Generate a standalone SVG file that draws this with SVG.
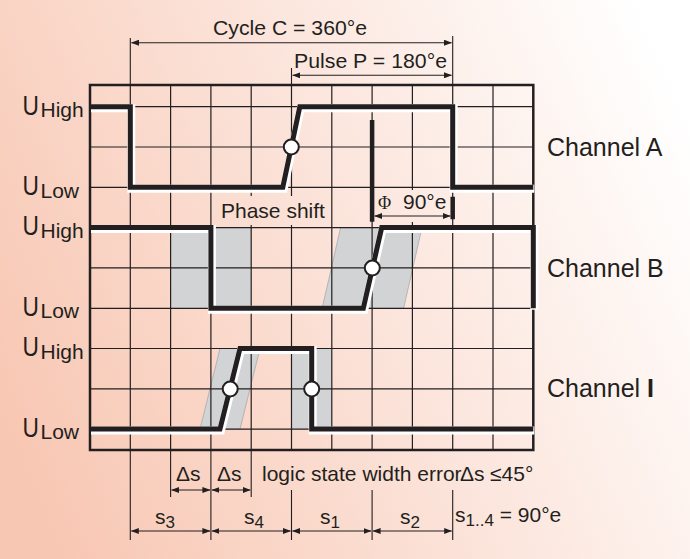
<svg xmlns="http://www.w3.org/2000/svg" width="690" height="559" viewBox="0 0 690 559">
<defs>
<linearGradient id="bg" gradientUnits="userSpaceOnUse" x1="0" y1="420" x2="690" y2="120">
<stop offset="0" stop-color="#f8c7b3"/>
<stop offset="0.45" stop-color="#fbe0d5"/>
<stop offset="1" stop-color="#ffffff"/>
</linearGradient>
<marker id="ah" markerUnits="userSpaceOnUse" markerWidth="8" markerHeight="6" refX="7.5" refY="3" orient="auto-start-reverse">
<path d="M0,0 L8,3 L0,6 Z" fill="#231f20"/>
</marker>
<style>
text{font-family:"Liberation Sans",Arial,Helvetica,sans-serif;fill:#231f20}
.t21{font-size:21px}
.ch{font-size:25px}
.u{font-size:27px}
.sub{font-size:21px}
.grid{stroke:#231f20;stroke-width:1.2;fill:none}
.border{stroke:#231f20;stroke-width:2.5;fill:none}
.halo{stroke:#ffffff;stroke-width:8;fill:none;stroke-linejoin:miter}
.sig{stroke:#231f20;stroke-width:5;fill:none;stroke-linejoin:miter}
.shade{fill:#d1d3d4}
.shade2{fill:#d1d3d4;stroke:#a8aaad;stroke-width:0.8}
.dim{stroke:#231f20;stroke-width:1.1;fill:none}
.arr{stroke:#231f20;stroke-width:1.1;fill:none;marker-start:url(#ah);marker-end:url(#ah)}
.bar{stroke:#231f20;stroke-width:4.5;fill:none}
.dot{fill:#ffffff;stroke:#231f20;stroke-width:2}
.knock{fill:url(#bg)}
</style>
</defs>
<rect x="0" y="0" width="690" height="559" fill="url(#bg)"/>

<g id="shading">
<rect class="shade" x="170.6" y="227.6" width="80.6" height="80.7"/>
<path class="shade2" d="M322.2,308.3 L340.6,227.6 H422 L403.6,308.3 Z"/>
<path class="shade2" d="M200,429.1 L220,348.5 H260 L240,429.1 Z"/>
<rect class="shade" x="291.5" y="348.5" width="40.3" height="80.6"/>
</g>

<g id="grid">
<path class="grid" d="M130.3,85V450M170.6,85V450M210.9,85V450M251.2,85V450M291.5,85V450M331.8,85V450M372.1,85V450M412.4,85V450M452.7,85V450M493,85V450"/>
<path class="grid" d="M90,106.7H533.3M90,147H533.3M90,187.3H533.3M90,227.6H533.3M90,267.9H533.3M90,308.3H533.3M90,348.5H533.3M90,388.8H533.3M90,429.1H533.3"/>
<rect class="border" x="90" y="85" width="443.3" height="365"/>
<rect class="knock" x="217" y="196" width="113" height="29"/>
<rect class="knock" x="375" y="190" width="76" height="32"/>
</g>

<g id="labels-left">
<text class="u" transform="translate(22.5,114.5) scale(0.84,1)">U</text>
<text class="sub" x="40.5" y="117">High</text>
<text class="u" transform="translate(22.5,195) scale(0.84,1)">U</text>
<text class="sub" x="40.5" y="197.5">Low</text>
<text class="u" transform="translate(22.5,235.3) scale(0.84,1)">U</text>
<text class="sub" x="40.5" y="237.8">High</text>
<text class="u" transform="translate(22.5,315.8) scale(0.84,1)">U</text>
<text class="sub" x="40.5" y="318.3">Low</text>
<text class="u" transform="translate(22.5,356) scale(0.84,1)">U</text>
<text class="sub" x="40.5" y="358.5">High</text>
<text class="u" transform="translate(22.5,436.6) scale(0.84,1)">U</text>
<text class="sub" x="40.5" y="439.1">Low</text>
</g>

<g id="channel-a">
<path class="halo" transform="translate(1,1.5)" d="M90,106.7 H130.3 V187.3 H282.8 L299.8,106.7 H452.7 V187.3 H533.3"/>
<path class="sig" d="M90,106.7 H130.3 V187.3 H282.8 L299.8,106.7 H452.7 V187.3 H533.3"/>
<circle class="dot" cx="291.3" cy="147" r="7.5"/>
<text class="ch" x="547" y="156">Channel A</text>
</g>

<g id="channel-b">
<path class="halo" transform="translate(1,1.5)" d="M90,227.6 H210.9 V308.3 H363.3 L381.7,227.6 H533.3 V308.3"/>
<path class="sig" d="M90,227.6 H210.9 V308.3 H363.3 L381.7,227.6 H533.3 V308.3"/>
<circle class="dot" cx="372.3" cy="268" r="7.5"/>
<text class="ch" x="547" y="276.5">Channel B</text>
</g>

<g id="channel-i">
<path class="halo" transform="translate(1,1.5)" d="M90,429.1 H220 L240,348.5 H311.7 V429.1 H533.3"/>
<path class="sig" d="M90,429.1 H220 L240,348.5 H311.7 V429.1 H533.3"/>
<circle class="dot" cx="230.2" cy="389" r="7.5"/>
<circle class="dot" cx="311.7" cy="389" r="7.5"/>
<text class="ch" x="547" y="397">Channel <tspan font-weight="bold">I</tspan></text>
</g>

<g id="connectors">
<path class="dim" d="M130.3,38V85M452.7,36V85M291.5,68V85"/>
<path class="arr" d="M131.5,42.7H451.5"/>
<path class="arr" d="M292.7,75.3H451.5"/>
<path class="bar" d="M372.1,120V221.7M452.7,196.7V219.3"/>
<path class="arr" d="M374.6,216H450.2"/>
<path class="dim" d="M130.3,450V540M210.9,450V540M170.6,450V497M251.2,450V497M291.5,490V540M372.1,490V540M452.7,490V540"/>
<path class="arr" d="M171.6,490H209.9"/>
<path class="arr" d="M211.9,490H250.2"/>
<path class="arr" d="M131.3,531H209.9"/>
<path class="arr" d="M211.9,531H290.5"/>
<path class="arr" d="M292.5,531H371.1"/>
<path class="arr" d="M373.1,531H451.7"/>
</g>

<g id="annotations">
<text class="t21" x="213" y="35" textLength="154" lengthAdjust="spacingAndGlyphs">Cycle C = 360°e</text>
<text class="t21" x="294" y="68.3" textLength="153" lengthAdjust="spacingAndGlyphs">Pulse P = 180°e</text>
<text class="t21" x="221" y="218">Phase shift</text>
<text class="t21" x="378" y="209"><tspan font-family="Liberation Serif, Times New Roman, serif" font-size="18">Φ</tspan><tspan x="403">90°e</tspan></text>
<text class="t21" x="176" y="481">Δs</text>
<text class="t21" x="217" y="481">Δs</text>
<text class="t21" x="262" y="481">logic state width error<tspan x="460">Δs</tspan><tspan x="490">≤45°</tspan></text>
<text class="t21" x="155" y="524">s<tspan font-size="17" dy="4">3</tspan></text>
<text class="t21" x="244" y="524">s<tspan font-size="17" dy="4">4</tspan></text>
<text class="t21" x="320" y="524">s<tspan font-size="17" dy="4">1</tspan></text>
<text class="t21" x="400" y="524">s<tspan font-size="17" dy="4">2</tspan></text>
<text class="t21" x="455" y="522">s<tspan font-size="17" dy="4">1..4</tspan><tspan dy="-4"> = 90°e</tspan></text>
</g>
</svg>
